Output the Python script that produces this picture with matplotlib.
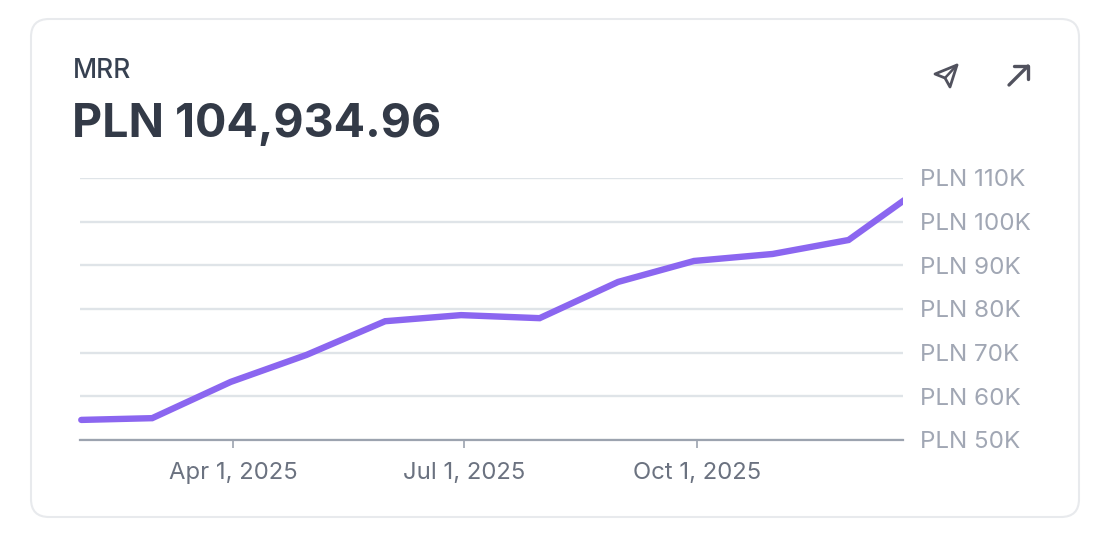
import matplotlib
matplotlib.use("Agg")
import matplotlib.pyplot as plt
from matplotlib.patches import FancyBboxPatch, Polygon, Rectangle
from matplotlib.lines import Line2D
import pandas as pd

plt.rcParams['font.family'] = ['Inter', 'DejaVu Sans']

W, H = 1098, 540
dates = ["2025-01-31", "2025-02-28", "2025-03-31", "2025-04-30", "2025-05-31", "2025-06-30",
         "2025-07-31", "2025-08-31", "2025-09-30", "2025-10-31", "2025-11-30", "2025-12-22"]
mrr = [54600, 55000, 63300, 69500, 77200, 78600, 77900, 86200, 91000, 92600, 95800, 104935]
yticks = [50000, 60000, 70000, 80000, 90000, 100000, 110000]
ylabels = ["PLN 50K", "PLN 60K", "PLN 70K", "PLN 80K", "PLN 90K", "PLN 100K", "PLN 110K"]
xticks = ["2025-04-01", "2025-07-01", "2025-10-01"]
xlabels = ["Apr 1, 2025", "Jul 1, 2025", "Oct 1, 2025"]

fig = plt.figure(figsize=(W / 100, H / 100), dpi=100, facecolor="white")

# overlay in pixel coordinates (y down)
bg = fig.add_axes([0, 0, 1, 1])
bg.set_xlim(0, W); bg.set_ylim(H, 0); bg.axis("off")
bg.add_patch(FancyBboxPatch((31, 19), 1048, 498, boxstyle="round,pad=0,rounding_size=18",
                            fc="white", ec="#e8eaed", lw=1.5))
bg.text(73, 71, "MRR", fontsize=19, color="#374151", va="center", ha="left", fontweight="medium")
bg.text(72, 125, "PLN 104,934.96", fontsize=33.5, color="#333a47", va="center", ha="left", fontweight="bold")

icon = "#51525e"
bg.add_patch(Polygon([(957, 65), (935, 74), (945, 78), (950, 87)], closed=True, fc="none", ec=icon, lw=2.0, joinstyle="round"))
bg.add_line(Line2D([945, 957], [78, 65], color=icon, lw=1.8, solid_capstyle="round"))
bg.add_line(Line2D([1009, 1028], [85, 66], color=icon, lw=2.4, solid_capstyle="round"))
bg.add_line(Line2D([1014, 1028, 1028], [66, 66, 79], color=icon, lw=2.4, solid_capstyle="round", solid_joinstyle="round"))

L, R, T, B = 80, 903, 178, 440
ax = fig.add_axes([L / W, 1 - B / H, (R - L) / W, (B - T) / H])
ax.patch.set_alpha(0)
x = pd.to_datetime(dates)
ax.set_xlim(pd.Timestamp("2025-01-30 12:00"), pd.Timestamp("2025-12-21 12:00"))
ax.set_ylim(50000, 110000)
ax.set_yticks(yticks, ylabels)
ax.set_xticks(pd.to_datetime(xticks), xlabels)
ax.yaxis.tick_right()
ax.grid(axis="y", color="#dfe4e8", lw=1.7)
ax.grid(axis="x", visible=False)
ax.set_axisbelow(True)
for s in ["top", "left", "right"]:
    ax.spines[s].set_visible(False)
ax.spines["bottom"].set_color("#9ca3af")
ax.spines["bottom"].set_linewidth(1.6)
ax.tick_params(axis="y", length=0, pad=12, labelsize=17.4, labelcolor="#a1a7b4")
ax.tick_params(axis="x", length=6, width=1.2, color="#9ca3af", pad=10, labelsize=17.2, labelcolor="#6b7280")
line, = ax.plot(x, mrr, color="#8b66f0", lw=4.6, solid_joinstyle="miter", solid_capstyle="round")
line.set_clip_path(Rectangle((60, 170), R - 60, 280, transform=bg.transData))

fig.savefig("out.png", dpi=100, facecolor="white")
